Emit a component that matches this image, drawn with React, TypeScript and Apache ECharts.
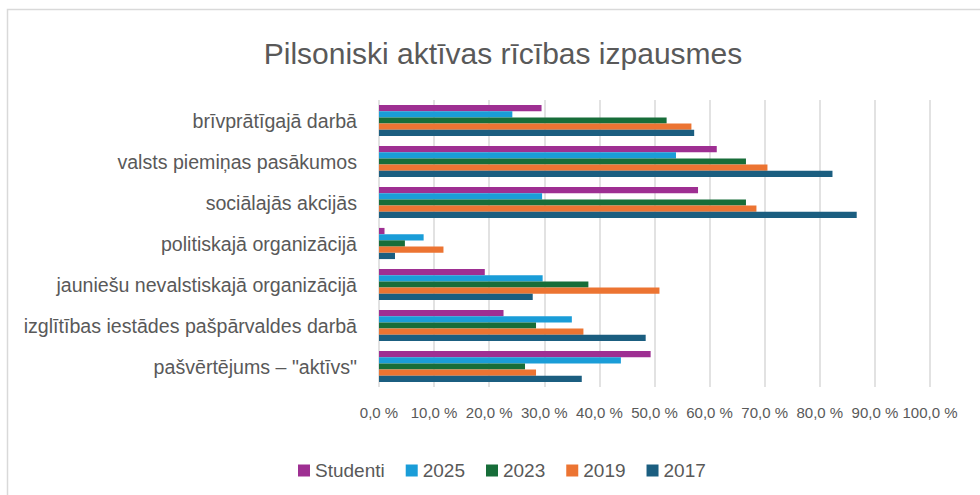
import React, { useEffect, useRef } from "react";
import * as echarts from "echarts";

const categories = [
  "brīvprātīgajā darbā",
  "valsts piemiņas pasākumos",
  "sociālajās akcijās",
  "politiskajā organizācijā",
  "jauniešu nevalstiskajā organizācijā",
  "izglītības iestādes pašpārvaldes darbā",
  "pašvērtējums – \"aktīvs\"",
];

const seriesNames = ["Studenti", "2025", "2023", "2019", "2017"];
const studenti = [29.5, 61.3, 57.9, 1.0, 19.2, 22.6, 49.3];
const y2025 = [24.2, 53.9, 29.6, 8.1, 29.7, 35.0, 43.9];
const y2023 = [52.2, 66.6, 66.6, 4.7, 38.0, 28.5, 26.5];
const y2019 = [56.7, 70.5, 68.5, 11.7, 50.9, 37.1, 28.5];
const y2017 = [57.2, 82.3, 86.7, 2.9, 27.9, 48.4, 36.8];
const colors = ["#9e2f92", "#1a9dd8", "#176d39", "#ec7432", "#1b5e80"];

const FONT = "Liberation Sans";
const TEXT = "#595959";

export default function App() {
  const ref = useRef<HTMLDivElement>(null);
  useEffect(() => {
    document.body.style.margin = "0";
    const chart = echarts.init(ref.current!, null, { renderer: "svg" });
    const data = [studenti, y2025, y2023, y2019, y2017];
    chart.setOption({
      animation: false,
      backgroundColor: "#ffffff",
      textStyle: { fontFamily: FONT, color: TEXT },
      title: {
        text: "Pilsoniski aktīvas rīcības izpausmes",
        left: 498,
        textAlign: "center",
        top: 33,
        textStyle: { fontFamily: FONT, fontSize: 30, fontWeight: "normal", color: TEXT },
      },
      graphic: [
        {
          type: "rect",
          shape: { x: 7.5, y: 9.5, width: 1000, height: 520 },
          style: { fill: "none", stroke: "#d9d9d9", lineWidth: 1.5 },
          silent: true,
        },
      ],
      legend: {
        data: seriesNames,
        left: 293,
        top: 456,
        itemWidth: 12,
        itemHeight: 12,
        itemGap: 21,
        icon: "rect",
        textStyle: { fontFamily: FONT, fontSize: 19, color: TEXT, padding: [0, 0, 0, 0] },
      },
      grid: { left: 379, right: 50, top: 100, bottom: 108, containLabel: false },
      xAxis: {
        type: "value",
        min: 0,
        max: 100,
        interval: 10,
        axisLine: { show: false },
        axisTick: { show: false },
        splitLine: { lineStyle: { color: "#d9d9d9", width: 1.5 } },
        axisLabel: {
          fontFamily: FONT,
          fontSize: 15,
          color: TEXT,
          margin: 18,
          formatter: (v: number) => v.toFixed(1).replace(".", ",") + " %",
        },
      },
      yAxis: {
        type: "category",
        data: categories,
        inverse: true,
        axisLine: { show: false },
        axisTick: { show: false },
        axisLabel: { fontFamily: FONT, fontSize: 19.6, color: TEXT, margin: 22 },
      },
      series: seriesNames.map((name, i) => ({
        name,
        type: "bar",
        data: data[i],
        barGap: "0%",
        barCategoryGap: "24%",
        itemStyle: { color: colors[i] },
      })),
    });
    return () => chart.dispose();
  }, []);
  return (
    <div
      ref={ref}
      style={{ position: "absolute", left: 0, top: 0, width: 980, height: 495 }}
    />
  );
}
